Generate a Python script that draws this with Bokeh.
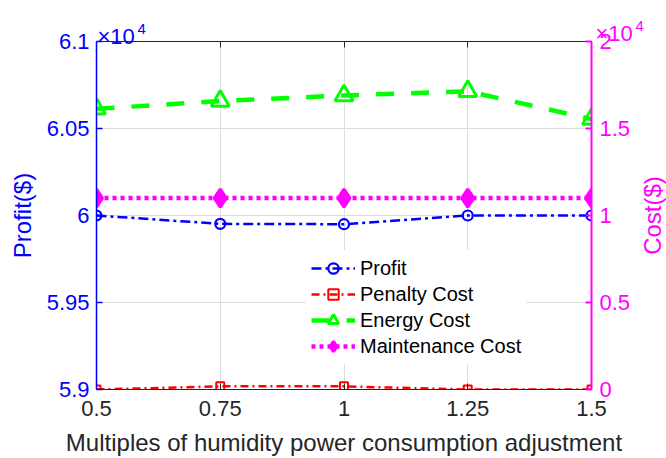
import math
from bokeh.plotting import figure
from bokeh.models import (Range1d, LinearAxis, FixedTicker, Legend, LegendItem)
from bokeh.core.properties import value
from bokeh.embed import file_html
from bokeh.resources import INLINE

# ---- data ----
x = [0.5, 0.75, 1.0, 1.25, 1.5]
profit = [60000, 59952, 59950, 60000, 60000]
penalty = [0, 180, 180, 0, 0]
energy = [16130, 16580, 16900, 17140, 15540]
maintenance = [11000, 11000, 11000, 11000, 11000]

x_ticks = [0.5, 0.75, 1, 1.25, 1.5]
x_tick_labels = ["0.5", "0.75", "1", "1.25", "1.5"]
profit_ticks = [59000, 59500, 60000, 60500, 61000]
profit_tick_labels = ["5.9", "5.95", "6", "6.05", "6.1"]
cost_ticks = [0, 5000, 10000, 15000, 20000]
cost_tick_labels = ["0", "0.5", "1", "1.5", "2"]

x_title = "Multiples of humidity power consumption adjustment"
left_title = "Profit($)"
right_title = "Cost($)"

FONT = "Liberation Sans"
BLUE = "#0000ff"
MAG = "#ff00ff"
RED = "#ff0000"
GREEN = "#00ff00"
DARK = "#262626"

p = figure(width=666, height=458, output_backend="svg", toolbar_location=None,
           x_range=Range1d(x_ticks[0], x_ticks[-1]),
           y_range=Range1d(profit_ticks[0], profit_ticks[-1]),
           min_border_left=96, min_border_right=75, min_border_top=41, min_border_bottom=69,
           x_axis_location=None, y_axis_location=None)
p.extra_y_ranges = {"cost": Range1d(cost_ticks[0], cost_ticks[-1])}
p.outline_line_color = None
p.background_fill_color = "white"

# grid
p.xgrid.ticker = FixedTicker(ticks=x_ticks)
p.ygrid.ticker = FixedTicker(ticks=profit_ticks)
p.xgrid.grid_line_color = "#dedede"
p.ygrid.grid_line_color = "#dedede"

def style_axis(ax, color, labels_color, ticks, labels, width):
    ax.ticker = FixedTicker(ticks=ticks)
    ax.major_label_overrides = {t: l for t, l in zip(ticks, labels)}
    ax.axis_line_color = color
    ax.axis_line_width = width
    ax.major_tick_line_color = color
    ax.major_tick_line_width = width
    ax.major_tick_in = 6
    ax.major_tick_out = 0
    ax.minor_tick_line_color = None
    ax.major_label_text_color = labels_color
    ax.major_label_text_font = FONT
    ax.major_label_text_font_size = "22px"

xb = LinearAxis()
style_axis(xb, DARK, DARK, x_ticks, x_tick_labels, 1)
xb.major_label_standoff = 11
p.add_layout(xb, "below")

xt = LinearAxis()
style_axis(xt, DARK, DARK, x_ticks, ["", "", "", "", ""], 1)
xt.major_label_standoff = 0
p.add_layout(xt, "above")

yl = LinearAxis()
style_axis(yl, BLUE, BLUE, profit_ticks, profit_tick_labels, 1.5)
yl.major_label_standoff = 7
p.add_layout(yl, "left")

yr = LinearAxis(y_range_name="cost")
style_axis(yr, MAG, MAG, cost_ticks, cost_tick_labels, 2)
yr.major_label_standoff = 8
p.add_layout(yr, "right")

# series
r_pl = p.line(x, profit, line_color=BLUE, line_width=2.5, line_dash="10 4 3 4")
r_ps = p.scatter(x, profit, marker="circle", size=10, line_color=BLUE, line_width=2.2,
                 fill_color=None)
r_nl = p.line(x, penalty, y_range_name="cost", line_color=RED, line_width=2.5, line_dash="8 4 2 4")
r_ns = p.scatter(x, penalty, y_range_name="cost", marker="square", size=8, line_color=RED,
                 line_width=2, fill_color=None)
r_el = p.line(x, energy, y_range_name="cost", line_color=GREEN, line_width=4.5, line_dash="18 17")
r_es = p.scatter(x, energy, y_range_name="cost", marker="triangle", size=18, line_color=GREEN,
                 line_width=3, fill_color=None)
r_ml = p.line(x, maintenance, y_range_name="cost", line_color=MAG, line_width=4.5, line_dash="4 4")
r_ms = p.scatter(x, maintenance, y_range_name="cost", marker="diamond", size=18, line_color=MAG,
                 line_width=3, fill_color=MAG)

legend = Legend(items=[
    LegendItem(label="Profit", renderers=[r_pl, r_ps]),
    LegendItem(label="Penalty Cost", renderers=[r_nl, r_ns]),
    LegendItem(label="Energy Cost", renderers=[r_el, r_es]),
    LegendItem(label="Maintenance Cost", renderers=[r_ml, r_ms]),
], location=(210, 25))
legend.label_text_font = FONT
legend.label_text_font_size = "20px"
legend.label_text_color = "black"
legend.glyph_width = 44
legend.glyph_height = 26
legend.label_height = 26
legend.spacing = 0
legend.padding = 5
legend.margin = 0
legend.label_standoff = 5
legend.border_line_alpha = 0
legend.background_fill_color = "white"
legend.background_fill_alpha = 1
p.add_layout(legend)

# ---- titles and exponent markers, drawn as overlay-level text (outside the frame) ----
def txt(xv, yv, s, color, size, dx=0, dy=0, angle=0.0, align="left", baseline="alphabetic",
        yr_name="default"):
    p.text(x=[xv], y=[yv], text=[s], x_offset=dx, y_offset=dy, angle=angle,
           text_font=value(FONT), text_font_size=size, text_color=color,
           text_align=align, text_baseline=baseline, level="overlay",
           y_range_name=yr_name)

xmid = (x_ticks[0] + x_ticks[-1]) / 2
txt(xmid, profit_ticks[0], x_title, DARK, "24px", dy=53, align="center", baseline="middle")
txt(x_ticks[0], (profit_ticks[0] + profit_ticks[-1]) / 2, left_title, BLUE, "24px",
    dx=-74, angle=math.pi / 2, align="center", baseline="middle")
txt(x_ticks[-1], (cost_ticks[0] + cost_ticks[-1]) / 2, right_title, MAG, "24px",
    dx=61, angle=math.pi / 2, align="center", baseline="middle", yr_name="cost")
# x10^4 exponent markers
txt(x_ticks[0], profit_ticks[-1], "×10", BLUE, "22px", dx=1, dy=-5)
txt(x_ticks[0], profit_ticks[-1], "4", BLUE, "15px", dx=41, dy=-13)
txt(x_ticks[-1], cost_ticks[-1], "×10", MAG, "22px", dx=4, dy=-8, yr_name="cost")
txt(x_ticks[-1], cost_ticks[-1], "4", MAG, "15px", dx=44, dy=-16, yr_name="cost")

open("out.html", "w").write(file_html(p, INLINE))
